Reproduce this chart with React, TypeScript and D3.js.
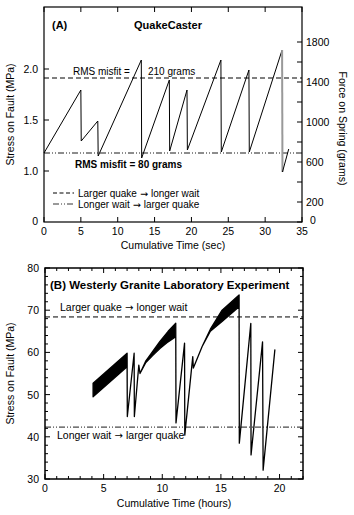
import React from 'react';
import * as d3 from 'd3';

// Panel A: QuakeCaster (time in sec, force in grams)
const aTime = [0, 5.0, 5.05, 7.3, 7.35, 13.2, 13.25, 17.0, 17.05, 19.4, 19.45, 24.0, 24.05, 27.8, 27.85, 32.3];
const aForce = [690, 1320, 810, 1010, 660, 1620, 640, 1420, 710, 1320, 720, 1620, 700, 1520, 700, 1720];
const aDropTime = [32.3, 32.35];
const aDropForce = [1720, 500];
const aTailTime = [32.35, 33.2];
const aTailForce = [500, 730];
const aDashedForce = 1440; // larger quake -> longer wait
const aDotForce = 690; // longer wait -> larger quake
const aTimeTicks = [0, 5, 10, 15, 20, 25, 30, 35];
const aMpaTicks = [1.0, 1.5, 2.0];
const aForceTicks = [0, 200, 400, 600, 800, 1000, 1200, 1400, 1600, 1800];
const aForceLabels = [0, 200, 600, 1000, 1400, 1800];

// Panel B: Westerly granite (time in hours, stress in MPa; low/high = width of the noisy band)
const bTime = [4.1, 7.0, 7.02, 7.6, 7.62, 8.0, 8.1, 8.6, 9.2, 9.8, 10.5, 11.15, 11.17, 11.9, 11.92, 12.6, 12.65, 13.4, 14.1, 15.1, 16.55, 16.57, 17.55, 17.57, 18.55, 18.6, 19.6];
const bLow = [49.5, 56.6, 44.8, 59.8, 44.8, 57.0, 55.0, 57.6, 59.3, 60.9, 62.5, 63.7, 43.3, 62.2, 40.4, 59.0, 56.3, 61.4, 65.0, 67.3, 70.8, 38.5, 66.9, 35.7, 62.5, 32.1, 60.6];
const bHigh = [52.7, 59.8, 44.8, 59.8, 44.8, 57.0, 55.0, 58.0, 60.3, 62.6, 65.0, 66.9, 43.3, 62.2, 40.4, 59.0, 56.3, 61.4, 65.5, 70.0, 73.6, 38.5, 66.9, 35.7, 62.5, 32.1, 60.6];
const bDashed = 68.4;
const bDot = 42.3;
const bTimeTicks = [0, 5, 10, 15, 20];
const bStressTicks = [30, 40, 50, 60, 70, 80];

const FONT = '"Liberation Sans", Arial, sans-serif';
const ARROW_FONT = '"DejaVu Sans", sans-serif';
const DASH = '5,3';
const DASHDOT = '6,2,1,2,1,2';

// text with a "→" drawn in a font that has a proper arrow
const ArrowText: React.FC<{ x: number; y: number; a: string; b: string; size: number }> = ({ x, y, a, b, size }) => (
    <text x={x} y={y} fontSize={size}>
        {a}
        <tspan fontFamily={ARROW_FONT} fontSize={size * 0.95}>{' → '}</tspan>
        {b}
    </text>
);

const PanelA: React.FC = () => {
    const x = d3.scaleLinear().domain([0, 35]).range([44, 302]);
    const y = d3.scaleLinear().domain([0, 2150]).range([222, 7]);
    // left axis: stress in MPa on the same pixels
    const yMpa = d3.scaleLinear().domain([0.5, 0.5 + 2150 / 1020]).range([222, 7]);
    const [x0, x1] = x.range();
    const [yb, yt] = y.range();

    const line = d3.line<number>().x(i => x(aTime[i])).y(i => y(aForce[i]));
    const dropLine = d3.line<number>().x(i => x(aDropTime[i])).y(i => y(aDropForce[i]));
    const tailLine = d3.line<number>().x(i => x(aTailTime[i])).y(i => y(aTailForce[i]));

    return (
        <g fontFamily={FONT}>
            {/* reference lines */}
            <line x1={x0} x2={x1} y1={y(aDashedForce)} y2={y(aDashedForce)} stroke="#000" strokeDasharray={DASH} />
            <line x1={x0} x2={x1} y1={y(aDotForce)} y2={y(aDotForce)} stroke="#000" strokeWidth={0.9} strokeDasharray={DASHDOT} />

            <path d={line(d3.range(aTime.length)) || ''} fill="none" stroke="#000" strokeWidth={1} />
            <path d={dropLine(d3.range(aDropTime.length)) || ''} fill="none" stroke="#999" strokeWidth={2} />
            <path d={tailLine(d3.range(aTailTime.length)) || ''} fill="none" stroke="#000" strokeWidth={1} />

            {/* frame */}
            <rect x={x0} y={yt} width={x1 - x0} height={yb - yt} fill="none" stroke="#000" strokeWidth={1.2} />

            {aTimeTicks.map(t => (
                <g key={'t' + t}>
                    <line x1={x(t)} x2={x(t)} y1={yb} y2={yb - 5} stroke="#000" />
                    <line x1={x(t)} x2={x(t)} y1={yt} y2={yt + 5} stroke="#000" />
                    <text x={x(t)} y={yb + 13} fontSize={10.5} textAnchor="middle">{t}</text>
                </g>
            ))}
            {aMpaTicks.map(v => (
                <g key={'m' + v}>
                    <line x1={x0} x2={x0 + 5} y1={yMpa(v)} y2={yMpa(v)} stroke="#000" />
                    <text x={x0 - 6} y={yMpa(v) + 4} fontSize={10.5} textAnchor="end">{v.toFixed(1)}</text>
                </g>
            ))}
            <text x={x0 - 6} y={yb + 3} fontSize={10.5} textAnchor="end">0</text>
            {aForceTicks.map(v => (
                <line key={'f' + v} x1={x1} x2={x1 - 5} y1={y(v)} y2={y(v)} stroke="#000" />
            ))}
            {aForceLabels.map(v => (
                <text key={'fl' + v} x={x1 + (v === 0 ? 8 : 4)} y={y(v) + (v === 0 ? 2 : 4)} fontSize={10.5}>{v}</text>
            ))}

            {/* titles and annotations */}
            <text x={52} y={29} fontSize={11} fontWeight="bold">(A)</text>
            <text x={168} y={29} fontSize={11} fontWeight="bold" textAnchor="middle">QuakeCaster</text>
            <text x={73} y={75} fontSize={10}>RMS misfit =</text>
            <text x={148} y={75} fontSize={10}>210 grams</text>
            <text x={75} y={168} fontSize={10} fontWeight="bold">RMS misfit = 80 grams</text>

            <line x1={53} x2={74} y1={193} y2={193} stroke="#000" strokeDasharray="4,2.5" />
            <ArrowText x={78} y={196.5} a="Larger quake" b="longer wait" size={10} />
            <line x1={53} x2={74} y1={204} y2={204} stroke="#000" strokeWidth={0.8} strokeDasharray={DASHDOT} />
            <ArrowText x={78} y={207.5} a="Longer wait" b="larger quake" size={10} />

            <text x={(x0 + x1) / 2} y={249} fontSize={10.5} textAnchor="middle">Cumulative Time (sec)</text>
            <text transform={`translate(14,${(yb + yt) / 2}) rotate(-90)`} fontSize={10.5} textAnchor="middle">Stress on Fault (MPa)</text>
            <text transform={`translate(339,${(yb + yt) / 2 + 14}) rotate(90)`} fontSize={10.5} textAnchor="middle">Force on Spring (grams)</text>
        </g>
    );
};

const PanelB: React.FC = () => {
    const x = d3.scaleLinear().domain([0, 22]).range([45, 303]);
    const y = d3.scaleLinear().domain([30, 80]).range([479, 268]);
    const [x0, x1] = x.range();
    const [yb, yt] = y.range();

    const band = d3.area<number>()
        .x(i => x(bTime[i]))
        .y0(i => y(bLow[i]))
        .y1(i => y(bHigh[i]));

    const minorX = d3.range(0, 23, 1);
    const minorY = d3.range(30, 81, 2);

    return (
        <g fontFamily={FONT}>
            <line x1={x0} x2={x1} y1={y(bDashed)} y2={y(bDashed)} stroke="#000" strokeDasharray={DASH} />
            <line x1={x0} x2={x1} y1={y(bDot)} y2={y(bDot)} stroke="#000" strokeWidth={0.9} strokeDasharray={DASHDOT} />

            <path d={band(d3.range(bTime.length)) || ''} fill="#000" stroke="#000" strokeWidth={1.3} strokeLinejoin="round" />

            <rect x={x0} y={yt} width={x1 - x0} height={yb - yt} fill="none" stroke="#000" strokeWidth={1.5} />

            {minorX.map(t => (
                <g key={'mx' + t}>
                    <line x1={x(t)} x2={x(t)} y1={yb} y2={yb - (t % 5 === 0 ? 5 : 3)} stroke="#000" />
                    <line x1={x(t)} x2={x(t)} y1={yt} y2={yt + (t % 5 === 0 ? 5 : 3)} stroke="#000" />
                </g>
            ))}
            {minorY.map(v => (
                <g key={'my' + v}>
                    <line x1={x0} x2={x0 + (v % 10 === 0 ? 5 : 3)} y1={y(v)} y2={y(v)} stroke="#000" />
                    <line x1={x1} x2={x1 - (v % 10 === 0 ? 5 : 3)} y1={y(v)} y2={y(v)} stroke="#000" />
                </g>
            ))}
            {bTimeTicks.map(t => (
                <text key={'bt' + t} x={x(t)} y={yb + 13} fontSize={10.5} textAnchor="middle">{t}</text>
            ))}
            {bStressTicks.map(v => (
                <text key={'bs' + v} x={x0 - 6} y={y(v) + 4} fontSize={10.5} textAnchor="end">{v}</text>
            ))}

            <text x={50} y={289} fontSize={11.5} fontWeight="bold">(B) Westerly Granite Laboratory Experiment</text>
            <ArrowText x={60} y={311} a="Larger quake" b="longer wait" size={10.5} />
            <ArrowText x={57} y={439} a="Longer wait" b="larger quake" size={10.5} />

            <text x={(x0 + x1) / 2} y={507} fontSize={10.5} textAnchor="middle">Cumulative Time (hours)</text>
            <text transform={`translate(14,${(yb + yt) / 2}) rotate(-90)`} fontSize={10.5} textAnchor="middle">Stress on Fault (MPa)</text>
        </g>
    );
};

export default function App() {
    return (
        <svg width={354} height={515} style={{ position: 'absolute', left: 0, top: 0, background: '#fff' }}>
            <rect width={354} height={515} fill="#fff" />
            <PanelA />
            <PanelB />
        </svg>
    );
}
